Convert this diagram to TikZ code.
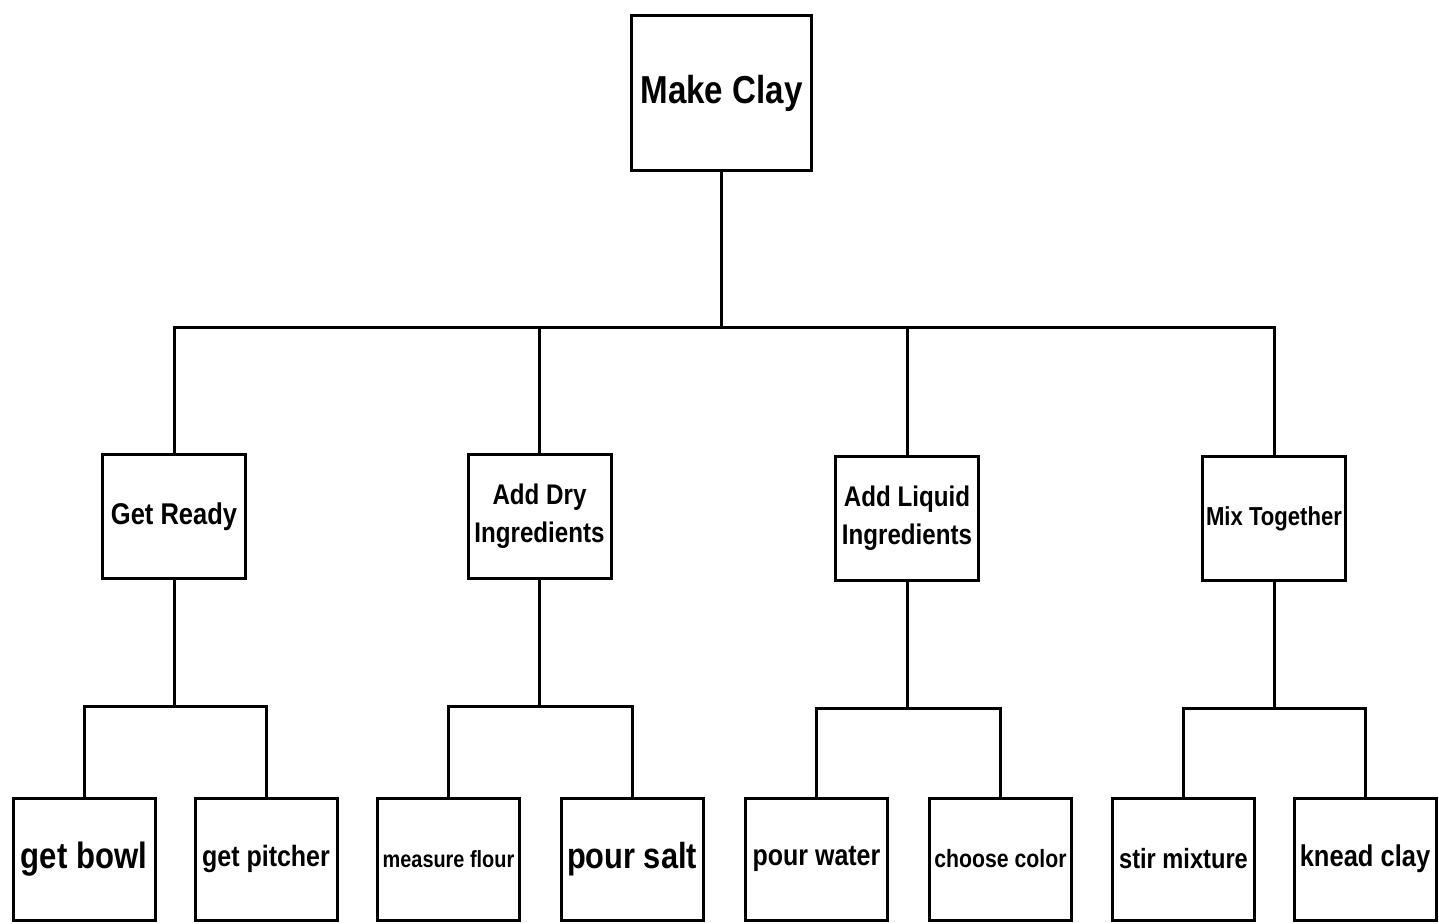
\documentclass[tikz,border=0pt]{standalone}
\usepackage{fontspec}
\setmainfont{Liberation Sans}[FakeStretch=0.85]
\usetikzlibrary{positioning}
\newcommand{\clsize}[2]{\fontsize{#1}{#2}\selectfont\bfseries}

\begin{document}
\begin{tikzpicture}[
      x=0.5pt, y=-0.5pt,
      goal/.style={rectangle, draw, fill=white, line width=1.5pt, inner sep=0pt, align=center, minimum width=90pt, minimum height=77.5pt},
      subtask/.style={rectangle, draw, fill=white, line width=1.5pt, inner sep=0pt, align=center, minimum width=71.5pt, minimum height=62pt},
      leaf/.style={rectangle, draw, fill=white, line width=1.5pt, inner sep=0pt, align=center, minimum width=71pt, minimum height=61pt},
      tree/.style={line width=1.5pt}
    ]
    \useasboundingbox (0,0) rectangle (1439,923);

    % 1. TOP GOAL
    \node[goal, font=\clsize{19.5pt}{24pt}] (clay) at (721.5,93) {Make Clay};

    % 2. SUBTASKS
    \node[subtask, font=\clsize{15pt}{19pt}] (ready) at (174,516.5) {Get Ready};
    \node[subtask, font=\clsize{14.2pt}{19pt}] (dry) at (539.5,516.5) {Add Dry\\Ingredients};
    \node[subtask, font=\clsize{14.2pt}{19pt}] (liquid) at (907,518.5) {Add Liquid\\Ingredients};
    \node[subtask, font=\clsize{13pt}{16pt}] (mix) at (1274,518.5) {Mix Together};

    % 3. STEPS
    \node[leaf, font=\clsize{18.3pt}{22pt}] (bowl) at (84,859) {get bowl};
    \node[leaf, font=\clsize{14.7pt}{18pt}] (pitcher) at (266,859) {get pitcher};
    \node[leaf, font=\clsize{11.7pt}{14pt}] (flour) at (448.5,859) {measure flour};
    \node[leaf, font=\clsize{18.1pt}{22pt}] (salt) at (632,859) {pour salt};
    \node[leaf, font=\clsize{14.7pt}{18pt}] (water) at (816.5,859) {pour water};
    \node[leaf, font=\clsize{12.5pt}{15pt}] (color) at (1000.5,859) {choose color};
    \node[leaf, font=\clsize{13.9pt}{17pt}] (stir) at (1183.5,859) {stir mixture};
    \node[leaf, font=\clsize{15pt}{18pt}] (knead) at (1365,859) {knead clay};

    %%% GOAL TO SUBTASKS
    \draw[tree] (clay.south) -- ++(0,155) -| (ready.north);
    \draw[tree] (clay.south) -- ++(0,155) -| (dry.north);
    \draw[tree] (clay.south) -- ++(0,155) -| (liquid.north);
    \draw[tree] (clay.south) -- ++(0,155) -| (mix.north);

    %%% SUBTASKS TO STEPS
    \draw[tree] (ready.south) -- ++(0,126) -| (bowl.north);
    \draw[tree] (ready.south) -- ++(0,126) -| (pitcher.north);
    \draw[tree] (dry.south) -- ++(0,126) -| (flour.north);
    \draw[tree] (dry.south) -- ++(0,126) -| (salt.north);
    \draw[tree] (liquid.south) -- ++(0,126) -| (water.north);
    \draw[tree] (liquid.south) -- ++(0,126) -| (color.north);
    \draw[tree] (mix.south) -- ++(0,126) -| (stir.north);
    \draw[tree] (mix.south) -- ++(0,126) -| (knead.north);
\end{tikzpicture}
\end{document}
